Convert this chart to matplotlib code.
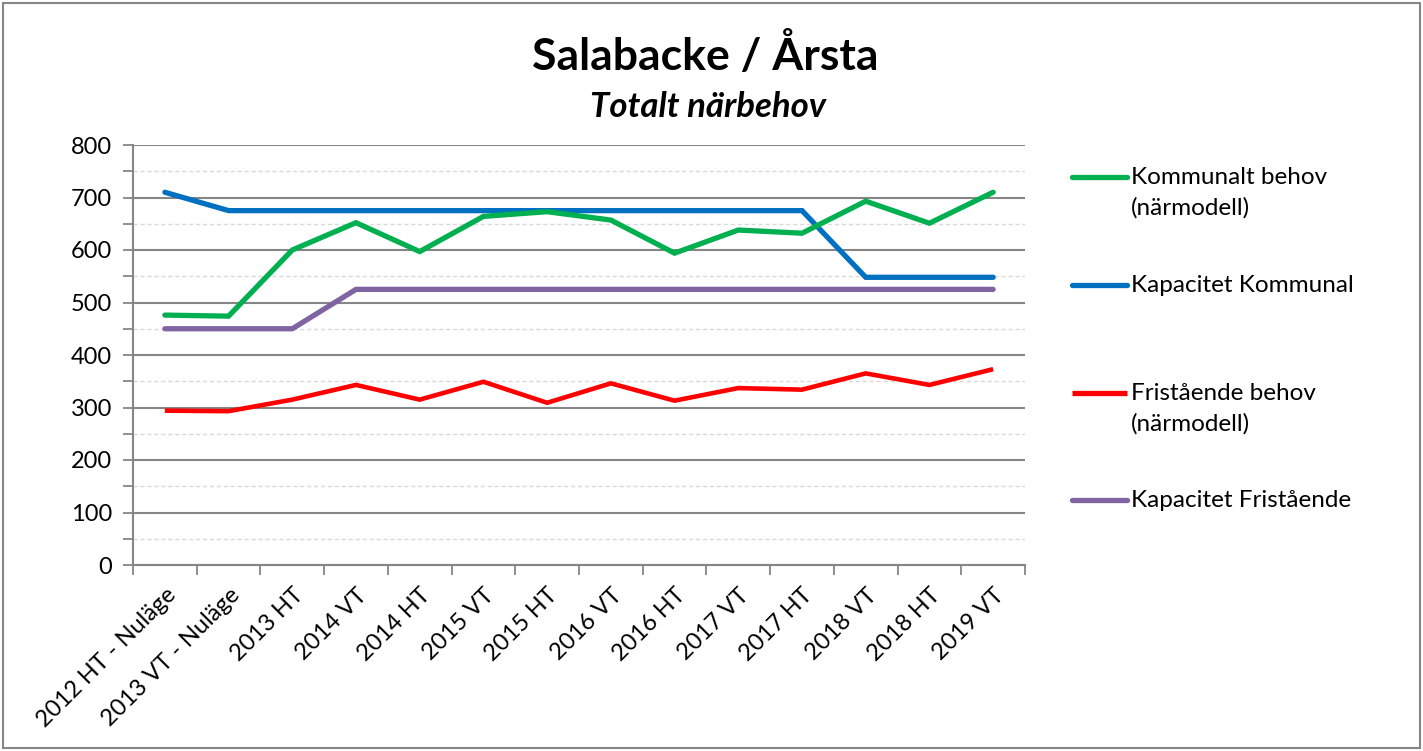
import matplotlib
matplotlib.use('Agg')
import matplotlib.pyplot as plt
from matplotlib.lines import Line2D
from matplotlib.patches import Rectangle
import numpy as np

# data
categories = ['2012 HT - Nuläge', '2013 VT - Nuläge', '2013 HT', '2014 VT', '2014 HT',
              '2015 VT', '2015 HT', '2016 VT', '2016 HT', '2017 VT', '2017 HT',
              '2018 VT', '2018 HT', '2019 VT']
kommunalt_behov = [476, 474, 600, 652, 597, 664, 673, 657, 594, 638, 632, 693, 651, 710]
kapacitet_kommunal = [710, 675, 675, 675, 675, 675, 675, 675, 675, 675, 675, 548, 548, 548]
fristaende_behov = [294, 293, 315, 343, 315, 349, 309, 346, 313, 337, 334, 365, 343, 373]
kapacitet_fristaende = [450, 450, 450, 525, 525, 525, 525, 525, 525, 525, 525, 525, 525, 525]

labels = ['Kommunalt behov\n(närmodell)', 'Kapacitet Kommunal',
          'Fristående behov\n(närmodell)', 'Kapacitet Fristående']
colors = ['#00B050', '#0070C0', '#FF0000', '#8064A2']

plt.rcParams['font.family'] = ['Lato', 'DejaVu Sans']

W, H = 1423, 751
fig = plt.figure(figsize=(W / 100, H / 100), dpi=100)
ax = fig.add_axes([133 / W, 1 - 565 / H, (1025 - 133) / W, (565 - 145) / H])

x = np.arange(len(categories))
series = [kommunalt_behov, kapacitet_kommunal, fristaende_behov, kapacitet_fristaende]
caps = ['round', 'round', 'butt', 'round']
widths = [3.8, 3.8, 3.3, 3.8]
order = [3, 2, 1, 0]
for i in order:
    ax.plot(x, series[i], color=colors[i], lw=widths[i], solid_capstyle=caps[i],
            solid_joinstyle='miter', zorder=3 + (3 - i))

ax.set_xlim(-0.5, len(categories) - 0.5)
ax.set_ylim(0, 800)
ax.set_yticks(np.arange(0, 801, 100))
ax.set_yticks(np.arange(50, 800, 100), minor=True)
ax.set_xticks(x)
ax.set_xticks(np.arange(-0.5, len(categories)), minor=True)
ax.set_xticklabels(categories, rotation=45, ha='right', rotation_mode='anchor', fontsize=17)
ax.tick_params(axis='x', which='major', length=0, pad=14)
ax.tick_params(axis='x', which='minor', length=7, width=1.3, color='#868686', direction='out')
ax.tick_params(axis='y', which='both', length=7, width=1.3, color='#868686', direction='out',
               labelsize=17, pad=8)

ax.grid(axis='y', which='major', color='#868686', lw=1.5, zorder=1)
ax.grid(axis='y', which='minor', color='#d9d9d9', lw=1.0, ls=(0, (3, 2)), zorder=1)
for s in ['top', 'right']:
    ax.spines[s].set_visible(False)
for s in ['left', 'bottom']:
    ax.spines[s].set_color('#868686')
    ax.spines[s].set_linewidth(1.5)

# title
fig.text(705 / W, 1 - 55 / H, 'Salabacke / Årsta', ha='center', va='center',
         fontsize=32, fontweight='bold')
fig.text(708 / W, 1 - 107 / H, 'Totalt närbehov', ha='center', va='center',
         fontsize=25, fontweight='bold', style='italic')

# legend, drawn by hand so the handle sits on the first text line
leg_y = [177, 285, 393, 500]
for lab, c, yy, cap in zip(labels, colors, leg_y, caps):
    fig.add_artist(Line2D([1072 / W, 1127 / W], [1 - yy / H, 1 - yy / H], color=c, lw=3.8,
                          solid_capstyle=cap, transform=fig.transFigure))
    fig.text(1131 / W, 1 - (yy - 10) / H, lab, ha='left', va='top', fontsize=17.5,
             linespacing=1.5)

# chart border
fig.add_artist(Rectangle((3 / W, 3 / H), (W - 6) / W, (H - 6) / H, transform=fig.transFigure,
                         fill=False, ec='#868686', lw=1.5))

fig.savefig('out.png', dpi=100)
